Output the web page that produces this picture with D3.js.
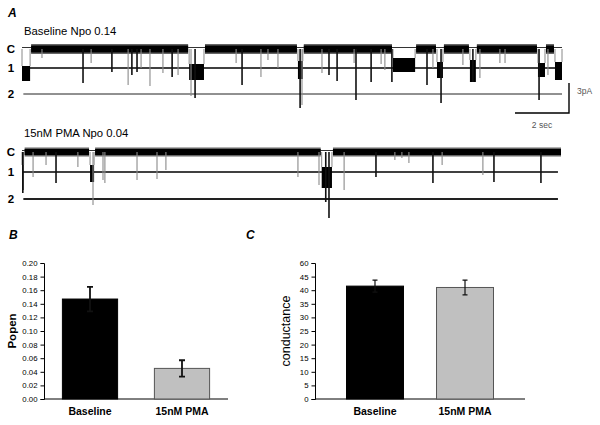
<!DOCTYPE html>
<html>
<head>
<meta charset="utf-8">
<script src="https://cdn.jsdelivr.net/npm/d3@7"></script>
<style>
  body { margin: 0; background: #fff; }
  svg { font-family: "Liberation Sans", Arial, sans-serif; }
</style>
</head>
<body>
<svg id="fig" width="600" height="425"></svg>
<script>
// ---- panel A: single channel traces (time in s, current in pA) ----
const traceSpan = [0, 20];
const levelNames = ['C', '1', '2'];
const baseLevels = [0, -1.9, -4.5];
const pmaLevels = [0, -2.0, -4.7];

// openings as [time, depth pA, tone]
const baseSpikes = [
  [0.74, -0.9, 'g'], [2.26, -3.4, 'k'], [2.56, -1.4, 'g'], [3.33, -2.3, 'k'],
  [3.93, -3.6, 'g'], [4.07, -2.6, 'k'], [4.26, -2.3, 'k'], [4.41, -1.9, 'g'],
  [4.74, -3.7, 'g'], [5.22, -2.4, 'g'], [5.56, -2.8, 'k'], [5.78, -2.6, 'g'],
  [6.26, -4.7, 'g'], [6.41, -4.9, 'k'], [7.93, -1.4, 'g'], [8.15, -3.6, 'k'],
  [8.85, -2.8, 'g'], [9.11, -1.1, 'g'], [9.48, -1.9, 'g'], [10.30, -5.9, 'k'],
  [10.37, -5.6, 'g'], [11.11, -2.4, 'g'], [11.37, -2.6, 'k'], [11.67, -3.2, 'k'],
  [12.30, -1.4, 'g'], [12.37, -5.1, 'k'], [12.93, -3.3, 'k'], [13.30, -1.5, 'g'],
  [13.44, -2.1, 'g'], [13.70, -3.3, 'k'], [15.00, -3.6, 'k'], [15.22, -1.9, 'g'],
  [15.52, -5.4, 'k'], [16.33, -1.6, 'g'], [16.70, -3.3, 'k'], [16.96, -2.9, 'g'],
  [17.70, -1.4, 'g'], [17.89, -1.4, 'g'], [19.15, -5.1, 'k'], [19.48, -2.6, 'g']
];
// bursts as [start, end, upper pA, lower pA]
const baseBursts = [
  [0.00, 0.30, -1.7, -3.2], [6.19, 6.74, -1.5, -3.1], [10.22, 10.40, -1.2, -3.0],
  [13.74, 14.56, -0.9, -2.3], [15.37, 15.59, -1.3, -2.9], [16.59, 16.81, -1.1, -3.3],
  [19.11, 19.37, -1.4, -2.8], [19.74, 20.00, -1.3, -3.1]
];

const pmaSpikes = [
  [0.03, -4.1, 'k'], [0.41, -2.5, 'g'], [0.89, -1.3, 'g'], [1.26, -3.1, 'k'],
  [2.07, -1.5, 'g'], [2.63, -5.3, 'g'], [3.00, -2.8, 'g'], [3.07, -3.1, 'g'],
  [4.26, -2.8, 'g'], [5.00, -2.7, 'g'], [5.33, -1.8, 'g'], [10.22, -2.5, 'g'],
  [11.00, -3.3, 'g'], [11.25, -5.0, 'k'], [11.37, -6.6, 'k'], [11.93, -3.8, 'g'],
  [13.11, -2.5, 'k'], [13.81, -0.8, 'g'], [14.07, -0.6, 'g'], [14.33, -1.1, 'g'],
  [15.22, -3.1, 'k'], [15.56, -1.3, 'g'], [17.07, -2.3, 'g'], [17.48, -3.0, 'k'],
  [19.22, -3.1, 'k']
];
const pmaBursts = [
  [0.00, 0.06, -1.3, -3.8], [2.52, 2.67, -1.3, -3.0], [11.10, 11.48, -1.5, -3.6]
];

// ---- panels B and C: bar charts ----
const groups = ['Baseline', '15nM PMA'];
const popen = [0.147, 0.045];
const popenErr = [0.018, 0.012];
const popenTicks = [0, 0.02, 0.04, 0.06, 0.08, 0.10, 0.12, 0.14, 0.16, 0.18, 0.20];
const conductance = [41.5, 41.0];
const conductanceErr = [2.2, 2.7];
const condTicks = [0, 5, 10, 15, 20, 25, 30, 35, 40, 45, 50];
const condTickLabels = ['0', '5', '10', '15', '20', '25', '30', '35', '40', '45', '60'];
const barFills = ['#000', '#c0c0c0'];
const barStrokes = ['#000', '#555'];

const svg = d3.select('#fig');

function panelLetter(x, y, t) {
  svg.append('text').attr('x', x).attr('y', y)
    .attr('font-size', 12).attr('font-weight', 'bold').attr('font-style', 'italic')
    .text(t);
}

panelLetter(8, 17, 'A');
panelLetter(9, 239, 'B');
panelLetter(246, 239, 'C');

const x = d3.scaleLinear().domain(traceSpan).range([22, 562]);

function drawTrace(cy, levels, spikes, bursts, title, titleY, lineEnd, bandH, l2Width) {
  const y = d3.scaleLinear().domain([0, -5]).range([cy, cy + 50]);
  const g = svg.append('g');

  g.append('text').attr('x', 24).attr('y', titleY).attr('font-size', 11.3).text(title);

  levels.forEach((lv, i) => {
    g.append('text').attr('x', 11).attr('y', y(lv) + 4).attr('text-anchor', 'middle')
      .attr('font-size', 11.5).attr('font-weight', 'bold').text(levelNames[i]);
  });

  // thin closed-level reference, level 1 and 2 lines
  g.append('line').attr('x1', x(0)).attr('x2', x(lineEnd))
    .attr('y1', y(levels[0]) - 1.5).attr('y2', y(levels[0]) - 1.5)
    .attr('stroke', '#333').attr('stroke-width', 1);
  g.append('line').attr('x1', x(0)).attr('x2', x(lineEnd))
    .attr('y1', y(levels[1])).attr('y2', y(levels[1]))
    .attr('stroke', '#000').attr('stroke-width', 1.6);
  g.append('line').attr('x1', x(0.05)).attr('x2', x(lineEnd))
    .attr('y1', y(levels[2])).attr('y2', y(levels[2]))
    .attr('stroke', '#222').attr('stroke-width', l2Width);

  // closed-state noise band between bursts
  const sorted = bursts.slice().sort((a, b) => a[0] - b[0]);
  let t = traceSpan[0];
  const closed = [];
  sorted.forEach(b => { if (b[0] > t) closed.push([t, b[0]]); t = Math.max(t, b[1]); });
  if (t < traceSpan[1]) closed.push([t, traceSpan[1]]);

  g.selectAll('.halo').data(closed).join('rect')
    .attr('x', d => x(d[0]) + 1).attr('width', d => x(d[1]) - x(d[0]) - 2)
    .attr('y', y(levels[0]) - bandH / 2 - 1.5).attr('height', bandH + 3)
    .attr('fill', '#666');
  g.selectAll('.band').data(closed).join('rect')
    .attr('x', d => x(d[0]) + 1).attr('width', d => x(d[1]) - x(d[0]) - 2)
    .attr('y', y(levels[0]) - bandH / 2).attr('height', bandH)
    .attr('fill', '#000');

  // gray transitions at burst edges
  g.selectAll('.edge').data(bursts.flatMap(b => [[b[0], b[2]], [b[1], b[2]]])).join('line')
    .attr('x1', d => x(d[0])).attr('x2', d => x(d[0]))
    .attr('y1', y(levels[0])).attr('y2', d => y(d[1]))
    .attr('stroke', '#888').attr('stroke-width', 1);

  g.selectAll('.burst').data(bursts).join('rect')
    .attr('x', d => x(d[0])).attr('width', d => Math.max(1.5, x(d[1]) - x(d[0])))
    .attr('y', d => y(d[2])).attr('height', d => y(d[3]) - y(d[2]))
    .attr('fill', '#000');

  g.selectAll('.spike').data(spikes).join('line')
    .attr('x1', d => x(d[0])).attr('x2', d => x(d[0]))
    .attr('y1', y(levels[0])).attr('y2', d => y(d[1]))
    .attr('stroke', d => d[2] === 'k' ? '#111' : '#8a8a8a')
    .attr('stroke-width', d => d[2] === 'k' ? 1.6 : 1.1);
}

drawTrace(49, baseLevels, baseSpikes, baseBursts, 'Baseline Npo 0.14', 35, 20, 7, 1);
drawTrace(152, pmaLevels, pmaSpikes, pmaBursts, '15nM PMA Npo 0.04', 137, 19.85, 6, 2);

// scale bar: 2 sec x 3 pA
const yBar = d3.scaleLinear().domain([0, -3]).range([83, 113]);
const barX1 = 569;
const barX0 = barX1 - (x(2) - x(0));
svg.append('path')
  .attr('d', `M${barX1},${yBar(0)}V${yBar(-3)}H${barX0}`)
  .attr('fill', 'none').attr('stroke', '#000').attr('stroke-width', 1.4);
svg.append('text').attr('x', 577).attr('y', 94).attr('font-size', 8.5).attr('fill', '#555').text('3pA');
svg.append('text').attr('x', 542).attr('y', 128).attr('text-anchor', 'middle')
  .attr('font-size', 8.5).attr('fill', '#555').text('2 sec');

// ---- bar chart helper ----
function barChart(opts) {
  const g = svg.append('g');
  const y = d3.scaleLinear().domain(opts.domain).range([399, 263]);
  const xb = d3.scaleBand().domain(groups).range([opts.x0, opts.x1])
    .paddingInner(opts.pIn).paddingOuter(opts.pOut);

  const ay = d3.axisLeft(y).tickValues(opts.ticks).tickSize(3.5).tickPadding(3)
    .tickFormat((d, i) => opts.labels[i]);
  const gy = g.append('g').attr('transform', `translate(${opts.x0},0)`).call(ay);
  gy.selectAll('text').attr('font-size', 7.8).attr('font-family', '"Liberation Sans", Arial, sans-serif')
    .attr('fill', '#000');
  gy.selectAll('line, path').attr('stroke', '#000');

  const ax = d3.axisBottom(xb).tickSize(0).tickPadding(9);
  const gx = g.append('g').attr('transform', 'translate(0,399)').call(ax);
  gx.select('.domain').attr('d', `M${opts.x0},0H${opts.x1}`).attr('stroke', '#000');
  gx.selectAll('text').attr('font-size', 10.5).attr('font-weight', 'bold')
    .attr('font-family', '"Liberation Sans", Arial, sans-serif').attr('fill', '#000');

  g.selectAll('.bar').data(groups).join('rect')
    .attr('x', d => xb(d)).attr('width', xb.bandwidth())
    .attr('y', (d, i) => y(opts.values[i]))
    .attr('height', (d, i) => 399 - y(opts.values[i]))
    .attr('fill', (d, i) => barFills[i]).attr('stroke', (d, i) => barStrokes[i]);

  const cap = opts.cap;
  g.selectAll('.err').data(groups).join('path')
    .attr('d', (d, i) => {
      const cx = xb(d) + xb.bandwidth() / 2;
      const hi = y(opts.values[i] + opts.errs[i]);
      const lo = y(opts.values[i] - opts.errs[i]);
      return `M${cx - cap},${hi}H${cx + cap}M${cx},${hi}V${lo}M${cx - cap},${lo}H${cx + cap}`;
    })
    .attr('fill', 'none').attr('stroke', '#111').attr('stroke-width', opts.errW);

  g.append('text')
    .attr('transform', `translate(${opts.labelX},331) rotate(-90)`)
    .attr('text-anchor', 'middle').attr('font-size', opts.labelSize)
    .attr('font-weight', opts.labelWeight).text(opts.label);
}

barChart({
  domain: [0, 0.2], ticks: popenTicks, labels: popenTicks.map(d3.format('.2f')),
  values: popen, errs: popenErr, x0: 44, x1: 228, pIn: 0.4, pOut: 0.2,
  cap: 3, errW: 1.8, label: 'Popen', labelX: 16, labelSize: 11.5, labelWeight: 'bold'
});

barChart({
  domain: [0, 50], ticks: condTicks, labels: condTickLabels,
  values: conductance, errs: conductanceErr, x0: 315, x1: 525, pIn: 0.367, pOut: 0.35,
  cap: 2.5, errW: 1.2, label: 'conductance', labelX: 290, labelSize: 12.5, labelWeight: 'normal'
});
</script>
</body>
</html>
